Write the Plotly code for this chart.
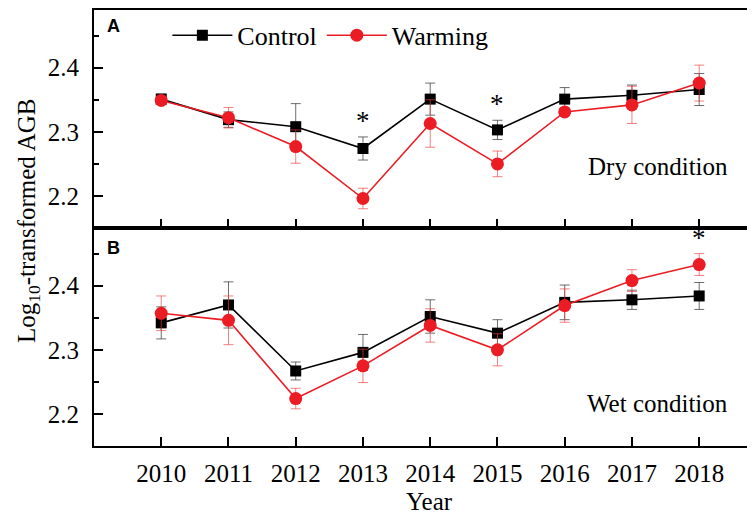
import plotly.graph_objects as go
from plotly.subplots import make_subplots

years = [2010, 2011, 2012, 2013, 2014, 2015, 2016, 2017, 2018]

# dry condition (panel A)
dry_control = [2.351, 2.319, 2.308, 2.274, 2.351, 2.303, 2.351, 2.357, 2.366]
dry_control_err = [0.008, 0.012, 0.036, 0.018, 0.025, 0.015, 0.018, 0.016, 0.025]
dry_warming = [2.349, 2.322, 2.277, 2.196, 2.313, 2.250, 2.331, 2.342, 2.376]
dry_warming_err = [0.006, 0.016, 0.026, 0.016, 0.037, 0.020, 0.005, 0.029, 0.028]
dry_signif = [2013, 2015]

# wet condition (panel B)
wet_control = [2.342, 2.370, 2.267, 2.296, 2.352, 2.326, 2.374, 2.378, 2.384]
wet_control_err = [0.025, 0.036, 0.014, 0.028, 0.026, 0.021, 0.027, 0.015, 0.021]
wet_warming = [2.357, 2.346, 2.224, 2.275, 2.338, 2.300, 2.369, 2.408, 2.433]
wet_warming_err = [0.027, 0.038, 0.016, 0.026, 0.026, 0.025, 0.026, 0.017, 0.017]
wet_signif = [2018]

y_ticks = [2.2, 2.3, 2.4]

# the page body adds an 8px margin, so the figure is 8px smaller than the window
SERIF = "Times New Roman, Liberation Serif, serif"
RED = "rgb(236,28,36)"
TICK_FONT = dict(family=SERIF, size=25, color="black")

fig = make_subplots(rows=2, cols=1, shared_xaxes=False, vertical_spacing=0)

panels = [
    (1, dry_control, dry_control_err, dry_warming, dry_warming_err, dry_signif),
    (2, wet_control, wet_control_err, wet_warming, wet_warming_err, wet_signif),
]
for row, ctl, ctl_err, warm, warm_err, signif in panels:
    show = row == 1
    fig.add_trace(go.Scatter(
        x=years, y=ctl, name="Control", mode="lines+markers", showlegend=show,
        line=dict(color="black", width=1.6),
        marker=dict(symbol="square", size=11, color="black"),
        error_y=dict(type="data", array=ctl_err, color="rgba(60,60,60,0.75)",
                     thickness=1, width=5),
    ), row=row, col=1)
    fig.add_trace(go.Scatter(
        x=years, y=warm, name="Warming", mode="lines+markers", showlegend=show,
        line=dict(color=RED, width=1.6),
        marker=dict(symbol="circle", size=13, color=RED),
        error_y=dict(type="data", array=warm_err, color="rgba(236,60,60,0.65)",
                     thickness=1, width=5),
    ), row=row, col=1)
    # significance asterisks sit above the higher error bar
    for yr in signif:
        i = years.index(yr)
        top = max(ctl[i] + ctl_err[i], warm[i] + warm_err[i])
        fig.add_annotation(x=yr, y=top, text="*", showarrow=False, yanchor="bottom",
                           xanchor="center", yshift=-1,
                           font=dict(family=SERIF, size=27, color="black"),
                           xref="x" if row == 1 else "x2", yref="y" if row == 1 else "y2")

fig.update_xaxes(range=[2009, 2018.83], tickvals=years, ticks="inside", ticklen=9,
                 tickwidth=1.5, tickcolor="black", showline=True, linecolor="black",
                 linewidth=2, mirror=True, showgrid=False, zeroline=False, tickfont=TICK_FONT)
fig.update_xaxes(showticklabels=False, row=1, col=1)
fig.update_xaxes(ticklabelstandoff=4, row=2, col=1)
fig.update_yaxes(range=[2.15, 2.49], tickvals=y_ticks, tickformat=".1f", ticks="inside",
                 ticklen=9, tickwidth=1.5, tickcolor="black", showline=True,
                 linecolor="black", linewidth=2, mirror=False, showgrid=False,
                 zeroline=False, tickfont=TICK_FONT, ticklabelstandoff=8,
                 minor=dict(dtick=0.1, tick0=2.15, ticks="inside", ticklen=5,
                            tickwidth=1.5, tickcolor="black", showgrid=False))

for yref, letter, ly, cond, cy in [("y", "A", 0.925, "Dry condition", 0.28),
                                   ("y2", "B", 0.91, "Wet condition", 0.195)]:
    xr = "x" if yref == "y" else "x2"
    fig.add_annotation(x=0.030, y=ly, xref=f"{xr} domain", yref=f"{yref} domain",
                       text=f"<b>{letter}</b>", showarrow=False,
                       xanchor="center", yanchor="middle",
                       font=dict(family="Arial, Liberation Sans", size=18, color="black"))
    fig.add_annotation(x=0.853, y=cy, xref=f"{xr} domain", yref=f"{yref} domain",
                       text=cond, showarrow=False, xanchor="center", yanchor="middle",
                       font=dict(family=SERIF, size=25, color="black"))

fig.add_annotation(x=-0.0998, y=0.516, xref="paper", yref="paper", textangle=-90,
                   text="Log<sub>10</sub>-transformed AGB", showarrow=False,
                   xanchor="center", yanchor="middle",
                   font=dict(family=SERIF, size=25, color="black"))
fig.add_annotation(x=0.508, y=-0.127, xref="paper", yref="paper", text="Year",
                   showarrow=False, xanchor="center", yanchor="middle",
                   font=dict(family=SERIF, size=25, color="black"))

fig.update_layout(
    width=747, height=509,
    margin=dict(l=86, r=0, t=0, b=71),
    font=dict(family=SERIF, color="black"),
    paper_bgcolor="white", plot_bgcolor="white",
    legend=dict(orientation="h", x=0.111, y=0.942, xanchor="left", yanchor="middle",
                font=dict(family=SERIF, size=26, color="black"),
                itemwidth=60, bgcolor="rgba(0,0,0,0)", tracegroupgap=0),
)

fig.write_html("out.html")
